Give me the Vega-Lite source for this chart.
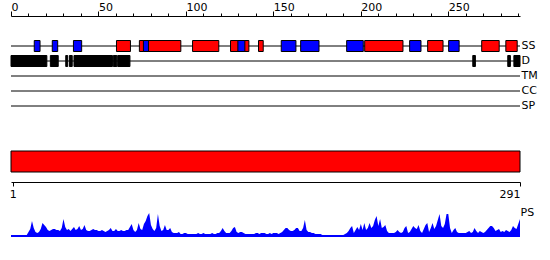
{
  "$schema": "https://vega.github.io/schema/vega-lite/v6.json",
  "padding": {"left": 9, "top": 1, "right": 0, "bottom": 0},
  "autosize": {"type": "pad"},
  "background": "white",
  "config": {
    "font": "DejaVu Sans",
    "view": {"stroke": null},
    "axis": {"grid": false, "labelColor": "black", "domainColor": "black", "tickColor": "black", "labelFontSize": 11, "titleFontSize": 11, "titleFontWeight": "normal", "titleColor": "black", "domainWidth": 1, "tickWidth": 1}
  },
  "datasets": {
    "tracks": [
      {"track": "SS", "start": 0, "end": 291},
      {"track": "D", "start": 0, "end": 291},
      {"track": "TM", "start": 0, "end": 291},
      {"track": "CC", "start": 0, "end": 291},
      {"track": "SP", "start": 0, "end": 291}
    ],
    "features": [
      {"track": "SS", "type": "helix", "start": 60.3, "end": 68.3},
      {"track": "SS", "type": "helix", "start": 73.4, "end": 97.1},
      {"track": "SS", "type": "helix", "start": 103.8, "end": 118.8},
      {"track": "SS", "type": "helix", "start": 125.5, "end": 136},
      {"track": "SS", "type": "helix", "start": 141.5, "end": 144.2},
      {"track": "SS", "type": "helix", "start": 202.2, "end": 224.1},
      {"track": "SS", "type": "helix", "start": 238.2, "end": 247},
      {"track": "SS", "type": "helix", "start": 269.1, "end": 279.1},
      {"track": "SS", "type": "helix", "start": 282.9, "end": 289.4},
      {"track": "SS", "type": "strand", "start": 13.3, "end": 16.6},
      {"track": "SS", "type": "strand", "start": 23.6, "end": 26.7},
      {"track": "SS", "type": "strand", "start": 35.7, "end": 40.4},
      {"track": "SS", "type": "strand", "start": 75.7, "end": 78.6},
      {"track": "SS", "type": "strand", "start": 129.7, "end": 133.7},
      {"track": "SS", "type": "strand", "start": 154.5, "end": 162.9},
      {"track": "SS", "type": "strand", "start": 165.6, "end": 176.1},
      {"track": "SS", "type": "strand", "start": 191.9, "end": 201.4},
      {"track": "SS", "type": "strand", "start": 227.9, "end": 234.4},
      {"track": "SS", "type": "strand", "start": 250.2, "end": 256.2},
      {"track": "D", "type": "disorder", "start": 0, "end": 20.5},
      {"track": "D", "type": "disorder", "start": 22.5, "end": 27},
      {"track": "D", "type": "disorder", "start": 31.3, "end": 32.4},
      {"track": "D", "type": "disorder", "start": 33.4, "end": 35},
      {"track": "D", "type": "disorder", "start": 36, "end": 58},
      {"track": "D", "type": "disorder", "start": 58.5, "end": 60.5},
      {"track": "D", "type": "disorder", "start": 61, "end": 68},
      {"track": "D", "type": "disorder", "start": 264, "end": 265.5},
      {"track": "D", "type": "disorder", "start": 284, "end": 285.5},
      {"track": "D", "type": "disorder", "start": 287.5, "end": 291}
    ],
    "region": [{"start": 0, "end": 291}],
    "ps": [
      {"pos":0,"ps":0},{"pos":1,"ps":0},{"pos":2,"ps":0},{"pos":3,"ps":0},{"pos":4,"ps":0},{"pos":5,"ps":0},{"pos":6,"ps":0},{"pos":7,"ps":0},{"pos":8,"ps":0},{"pos":9,"ps":1},
      {"pos":10,"ps":4},{"pos":11,"ps":7},{"pos":12,"ps":15},{"pos":13,"ps":8},{"pos":14,"ps":4},{"pos":15,"ps":3},{"pos":16,"ps":4},{"pos":17,"ps":7},{"pos":18,"ps":13},{"pos":19,"ps":11},
      {"pos":20,"ps":9},{"pos":21,"ps":6},{"pos":22,"ps":5},{"pos":23,"ps":6},{"pos":24,"ps":7},{"pos":25,"ps":7},{"pos":26,"ps":6},{"pos":27,"ps":6},{"pos":28,"ps":5},{"pos":29,"ps":8},
      {"pos":30,"ps":17},{"pos":31,"ps":9},{"pos":32,"ps":6},{"pos":33,"ps":7},{"pos":34,"ps":5},{"pos":35,"ps":7},{"pos":36,"ps":9},{"pos":37,"ps":6},{"pos":38,"ps":7},{"pos":39,"ps":10},
      {"pos":40,"ps":6},{"pos":41,"ps":7},{"pos":42,"ps":11},{"pos":43,"ps":6},{"pos":44,"ps":5},{"pos":45,"ps":5},{"pos":46,"ps":6},{"pos":47,"ps":7},{"pos":48,"ps":6},{"pos":49,"ps":6},
      {"pos":50,"ps":5},{"pos":51,"ps":5},{"pos":52,"ps":6},{"pos":53,"ps":5},{"pos":54,"ps":4},{"pos":55,"ps":5},{"pos":56,"ps":6},{"pos":57,"ps":8},{"pos":58,"ps":5},{"pos":59,"ps":5},
      {"pos":60,"ps":7},{"pos":61,"ps":5},{"pos":62,"ps":5},{"pos":63,"ps":6},{"pos":64,"ps":5},{"pos":65,"ps":5},{"pos":66,"ps":6},{"pos":67,"ps":6},{"pos":68,"ps":9},{"pos":69,"ps":12},
      {"pos":70,"ps":6},{"pos":71,"ps":4},{"pos":72,"ps":6},{"pos":73,"ps":13},{"pos":74,"ps":7},{"pos":75,"ps":6},{"pos":76,"ps":12},{"pos":77,"ps":15},{"pos":78,"ps":20},{"pos":79,"ps":23},
      {"pos":80,"ps":11},{"pos":81,"ps":7},{"pos":82,"ps":5},{"pos":83,"ps":8},{"pos":84,"ps":22},{"pos":85,"ps":10},{"pos":86,"ps":5},{"pos":87,"ps":6},{"pos":88,"ps":11},{"pos":89,"ps":6},
      {"pos":90,"ps":6},{"pos":91,"ps":8},{"pos":92,"ps":4},{"pos":93,"ps":3},{"pos":94,"ps":3},{"pos":95,"ps":3},{"pos":96,"ps":4},{"pos":97,"ps":2},{"pos":98,"ps":2},{"pos":99,"ps":3},
      {"pos":100,"ps":3},{"pos":101,"ps":2},{"pos":102,"ps":2},{"pos":103,"ps":2},{"pos":104,"ps":2},{"pos":105,"ps":2},{"pos":106,"ps":2},{"pos":107,"ps":3},{"pos":108,"ps":2},{"pos":109,"ps":2},
      {"pos":110,"ps":3},{"pos":111,"ps":2},{"pos":112,"ps":2},{"pos":113,"ps":2},{"pos":114,"ps":2},{"pos":115,"ps":3},{"pos":116,"ps":2},{"pos":117,"ps":2},{"pos":118,"ps":3},{"pos":119,"ps":3},
      {"pos":120,"ps":5},{"pos":121,"ps":8},{"pos":122,"ps":5},{"pos":123,"ps":3},{"pos":124,"ps":3},{"pos":125,"ps":3},{"pos":126,"ps":5},{"pos":127,"ps":8},{"pos":128,"ps":9},{"pos":129,"ps":4},
      {"pos":130,"ps":3},{"pos":131,"ps":4},{"pos":132,"ps":4},{"pos":133,"ps":3},{"pos":134,"ps":2},{"pos":135,"ps":2},{"pos":136,"ps":2},{"pos":137,"ps":2},{"pos":138,"ps":2},{"pos":139,"ps":2},
      {"pos":140,"ps":3},{"pos":141,"ps":3},{"pos":142,"ps":2},{"pos":143,"ps":3},{"pos":144,"ps":3},{"pos":145,"ps":3},{"pos":146,"ps":2},{"pos":147,"ps":2},{"pos":148,"ps":3},{"pos":149,"ps":2},
      {"pos":150,"ps":3},{"pos":151,"ps":3},{"pos":152,"ps":3},{"pos":153,"ps":2},{"pos":154,"ps":3},{"pos":155,"ps":4},{"pos":156,"ps":6},{"pos":157,"ps":8},{"pos":158,"ps":8},{"pos":159,"ps":6},
      {"pos":160,"ps":5},{"pos":161,"ps":5},{"pos":162,"ps":6},{"pos":163,"ps":8},{"pos":164,"ps":8},{"pos":165,"ps":5},{"pos":166,"ps":5},{"pos":167,"ps":8},{"pos":168,"ps":16},{"pos":169,"ps":6},
      {"pos":170,"ps":4},{"pos":171,"ps":4},{"pos":172,"ps":3},{"pos":173,"ps":3},{"pos":174,"ps":2},{"pos":175,"ps":2},{"pos":176,"ps":2},{"pos":177,"ps":2},{"pos":178,"ps":1},{"pos":179,"ps":1},
      {"pos":180,"ps":1},{"pos":181,"ps":1},{"pos":182,"ps":1},{"pos":183,"ps":1},{"pos":184,"ps":1},{"pos":185,"ps":1},{"pos":186,"ps":1},{"pos":187,"ps":1},{"pos":188,"ps":1},{"pos":189,"ps":1},
      {"pos":190,"ps":1},{"pos":191,"ps":2},{"pos":192,"ps":3},{"pos":193,"ps":5},{"pos":194,"ps":8},{"pos":195,"ps":10},{"pos":196,"ps":3},{"pos":197,"ps":6},{"pos":198,"ps":9},{"pos":199,"ps":6},
      {"pos":200,"ps":12},{"pos":201,"ps":6},{"pos":202,"ps":13},{"pos":203,"ps":6},{"pos":204,"ps":8},{"pos":205,"ps":13},{"pos":206,"ps":8},{"pos":207,"ps":10},{"pos":208,"ps":16},{"pos":209,"ps":20},
      {"pos":210,"ps":10},{"pos":211,"ps":17},{"pos":212,"ps":8},{"pos":213,"ps":9},{"pos":214,"ps":11},{"pos":215,"ps":5},{"pos":216,"ps":3},{"pos":217,"ps":3},{"pos":218,"ps":3},{"pos":219,"ps":3},
      {"pos":220,"ps":4},{"pos":221,"ps":6},{"pos":222,"ps":4},{"pos":223,"ps":3},{"pos":224,"ps":4},{"pos":225,"ps":8},{"pos":226,"ps":10},{"pos":227,"ps":3},{"pos":228,"ps":4},{"pos":229,"ps":7},
      {"pos":230,"ps":10},{"pos":231,"ps":8},{"pos":232,"ps":7},{"pos":233,"ps":11},{"pos":234,"ps":5},{"pos":235,"ps":3},{"pos":236,"ps":7},{"pos":237,"ps":11},{"pos":238,"ps":13},{"pos":239,"ps":4},
      {"pos":240,"ps":8},{"pos":241,"ps":13},{"pos":242,"ps":7},{"pos":243,"ps":10},{"pos":244,"ps":16},{"pos":245,"ps":22},{"pos":246,"ps":10},{"pos":247,"ps":8},{"pos":248,"ps":12},{"pos":249,"ps":22},
      {"pos":250,"ps":22},{"pos":251,"ps":8},{"pos":252,"ps":3},{"pos":253,"ps":6},{"pos":254,"ps":8},{"pos":255,"ps":4},{"pos":256,"ps":3},{"pos":257,"ps":3},{"pos":258,"ps":3},{"pos":259,"ps":3},
      {"pos":260,"ps":3},{"pos":261,"ps":4},{"pos":262,"ps":5},{"pos":263,"ps":3},{"pos":264,"ps":4},{"pos":265,"ps":8},{"pos":266,"ps":5},{"pos":267,"ps":3},{"pos":268,"ps":5},{"pos":269,"ps":4},
      {"pos":270,"ps":3},{"pos":271,"ps":4},{"pos":272,"ps":6},{"pos":273,"ps":8},{"pos":274,"ps":10},{"pos":275,"ps":10},{"pos":276,"ps":8},{"pos":277,"ps":5},{"pos":278,"ps":6},{"pos":279,"ps":7},
      {"pos":280,"ps":4},{"pos":281,"ps":5},{"pos":282,"ps":4},{"pos":283,"ps":6},{"pos":284,"ps":5},{"pos":285,"ps":4},{"pos":286,"ps":6},{"pos":287,"ps":10},{"pos":288,"ps":8},{"pos":289,"ps":7},
      {"pos":290,"ps":12},{"pos":291,"ps":17}
    ]
  },
  "spacing": 15,
  "bounds": "flush",
  "vconcat": [
    {
      "width": 509,
      "height": 120,
      "layer": [
        {
          "data": {"name": "tracks"},
          "mark": {"type": "rule", "color": "black", "strokeWidth": 1},
          "encoding": {
            "x": {
              "field": "start", "type": "quantitative",
              "scale": {"domain": [0, 291], "nice": false, "zero": false},
              "axis": {
                "orient": "top", "title": null,
                "values": [0,10,20,30,40,50,60,70,80,90,100,110,120,130,140,150,160,170,180,190,200,210,220,230,240,250,260,270,280,290],
                "tickCount": 40,
                "labelExpr": "datum.value % 50 === 0 ? datum.label : ''",
                "format": "d",
                "tickSize": {"condition": {"test": "datum.value % 50 === 0", "value": 5}, "value": 3},
                "labelAlign": "left",
                "labelPadding": -1,
                "labelOverlap": false,
                "labelFlush": false
              }
            },
            "x2": {"field": "end"},
            "y": {
              "field": "track", "type": "nominal",
              "scale": {"type": "band", "domain": ["SS", "D", "TM", "CC", "SP"], "range": [22.5, 97.5], "paddingInner": 0, "paddingOuter": 0},
              "axis": {"orient": "right", "title": null, "domain": false, "ticks": false, "labelPadding": 1, "labelAlign": "left"}
            }
          }
        },
        {
          "data": {"name": "features"},
          "mark": {"type": "bar", "height": 11, "stroke": "black", "strokeWidth": 1},
          "encoding": {
            "x": {"field": "start", "type": "quantitative"},
            "x2": {"field": "end"},
            "y": {"field": "track", "type": "nominal", "scale": {"type": "band", "domain": ["SS", "D", "TM", "CC", "SP"], "range": [22.5, 97.5], "paddingInner": 0, "paddingOuter": 0}},
            "color": {
              "field": "type", "type": "nominal",
              "scale": {"domain": ["helix", "strand", "disorder"], "range": ["#ff0000", "#0000ff", "#000000"]},
              "legend": null
            }
          }
        }
      ]
    },
    {
      "width": 509,
      "height": 21,
      "data": {"name": "region"},
      "mark": {"type": "rect", "color": "#ff0000", "stroke": "black", "strokeWidth": 1},
      "encoding": {
        "x": {
          "field": "start", "type": "quantitative",
          "scale": {"domain": [0, 291], "nice": false, "zero": false},
          "axis": {"orient": "bottom", "title": null, "values": [1, 291], "offset": 10, "tickSize": 4, "labelFlush": true, "labelPadding": 2, "format": "d"}
        },
        "x2": {"field": "end"}
      }
    },
    {
      "width": 509,
      "height": 49,
      "layer": [
        {
          "data": {"name": "ps"},
          "mark": {"type": "area", "color": "#0000ff", "interpolate": "linear"},
          "encoding": {
            "x": {"field": "pos", "type": "quantitative", "scale": {"domain": [0, 291], "nice": false, "zero": false}, "axis": null},
            "y": {
              "field": "ps", "type": "quantitative",
              "scale": {"domain": [0, 49], "nice": false},
              "axis": {"orient": "right", "title": "PS", "labels": false, "ticks": false, "domain": false, "titleAngle": 0, "titleAlign": "left", "titleBaseline": "top", "titleAnchor": "end", "titleX": 0, "titleY": 19}
            }
          }
        },
        {
          "data": {"values": [{}]},
          "mark": {"type": "rule", "color": "#0000ff", "strokeWidth": 2},
          "encoding": {"y": {"datum": 0}}
        }
      ]
    }
  ]
}
